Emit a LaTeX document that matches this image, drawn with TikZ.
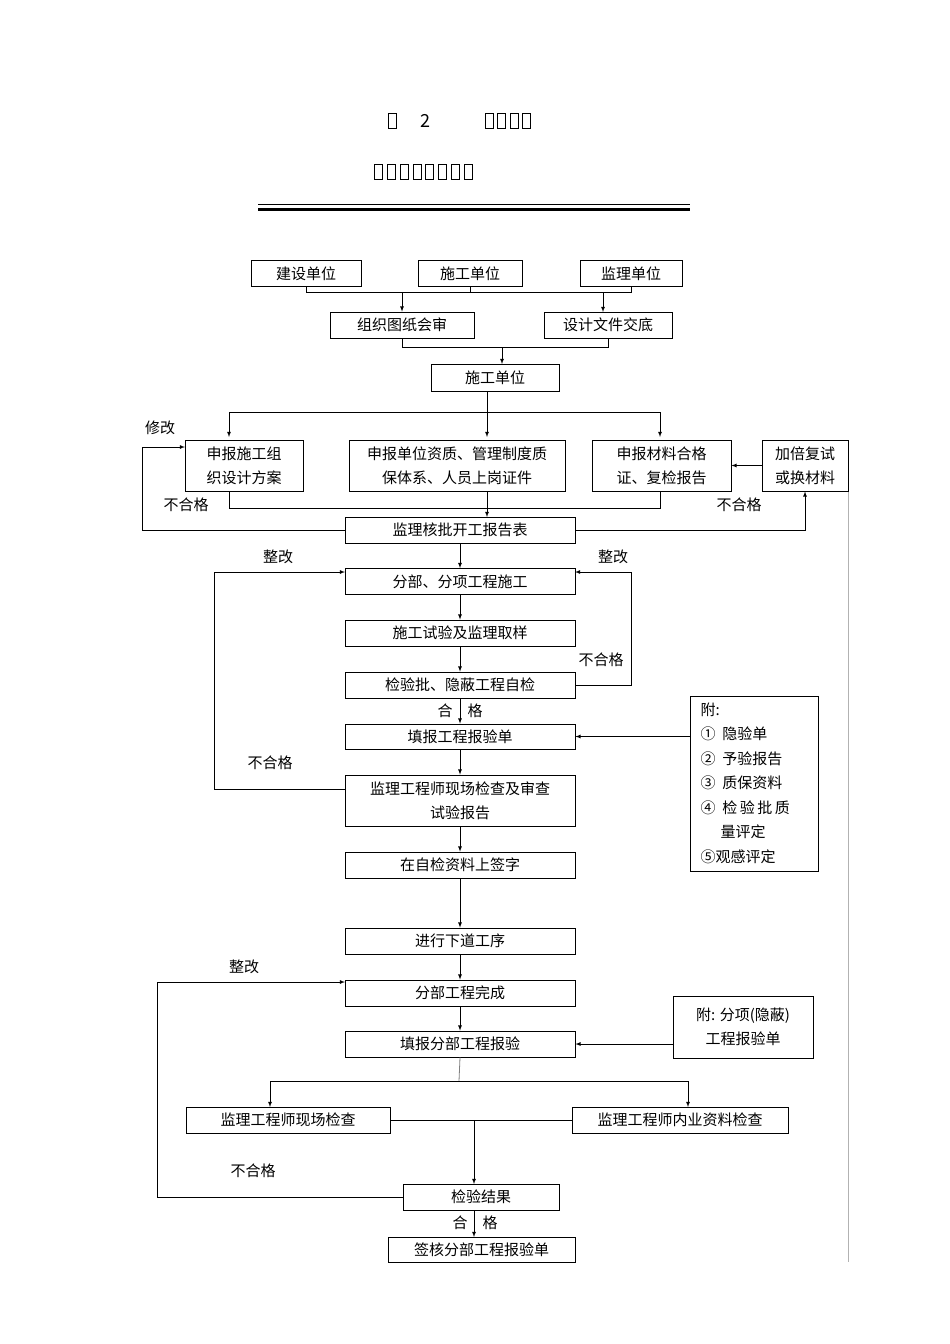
\documentclass[tikz,border=0pt]{standalone}
\usepackage{fontspec}
\setmainfont{Noto Sans CJK SC}
\usetikzlibrary{calc}

\begin{document}
\begin{tikzpicture}[x=1pt,y=-1pt,
    box/.style={draw,thick,inner sep=0pt,minimum height=26pt,font=\fontsize{15}{24}\selectfont,align=center},
    link/.style={thick,-latex},
    line/.style={thick},
    lbl/.style={font=\fontsize{15}{18}\selectfont},
    tofu/.style={draw,thin,minimum width=8pt,minimum height=15pt,inner sep=0pt}]
  \useasboundingbox (0,0) rectangle (950,1344);

  % title (glyphs missing in the original)
  \node[tofu] at (392,121) {};
  \node[font=\fontsize{18}{18}\selectfont] at (425,121) {2};
  \foreach \i in {0,...,3} \node[tofu] at (489+\i*12.5,121) {};
  \foreach \i in {0,...,7} \node[tofu] at (378+\i*12.9,172) {};
  \draw[thin] (258,204) -- (690,204);
  \draw[line width=3pt] (258,209.5) -- (690,209.5);
  \draw[gray!60,thin] (848,490) -- (848,1262);

  % top
  \node[box,minimum width=110pt] (owner) at (306,273.5) {建设单位};
  \node[box,minimum width=104pt] (builder) at (470,273.5) {施工单位};
  \node[box,minimum width=102pt] (super) at (631,273.5) {监理单位};
  \node[box,minimum width=144pt] (review) at (402,325) {组织图纸会审};
  \node[box,minimum width=128pt] (brief) at (608,325) {设计文件交底};
  \node[box,minimum width=128pt,minimum height=27pt] (builder2) at (495,377.5) {施工单位};

  \draw[line] (owner.south) -- (306,292) -- (631,292) -- (super.south);
  \draw[line] (builder.south) -- (470,292);
  \draw[link] (402,292) -- (review.north);
  \draw[link] (603,292) -- (603,312);
  \draw[line] (review.south) -- (402,347) -- (608,347) -- (brief.south);
  \draw[link] (502,347) -- (502,364);

  % submissions
  \node[box,minimum width=118pt,minimum height=51pt] (plan) at (244,465.5) {申报施工组\\织设计方案};
  \node[box,minimum width=216pt,minimum height=51pt] (qual) at (457,465.5) {申报单位资质、管理制度质\\保体系、人员上岗证件};
  \node[box,minimum width=139pt,minimum height=51pt] (mat) at (661.5,465.5) {申报材料合格\\证、复检报告};
  \node[box,minimum width=86pt,minimum height=51pt] (retest) at (805,465.5) {加倍复试\\或换材料};

  \draw[line] (487,391) -- (487,412);
  \draw[line] (229,412) -- (660,412);
  \draw[link] (229,412) -- (229,437);
  \draw[link] (487,412) -- (487,437);
  \draw[link] (660,412) -- (660,437);
  \draw[link] (retest.west) -- (mat.east);

  % column
  \node[box,minimum width=230pt] (approve) at (460,530) {监理核批开工报告表};
  \node[box,minimum width=230pt] (work) at (460,581.5) {分部、分项工程施工};
  \node[box,minimum width=230pt] (test) at (460,633) {施工试验及监理取样};
  \node[box,minimum width=230pt] (selfchk) at (460,685) {检验批、隐蔽工程自检};
  \node[box,minimum width=230pt,minimum height=25pt] (form) at (460,736.5) {填报工程报验单};
  \node[box,minimum width=230pt,minimum height=51pt] (inspect) at (460,800.5) {监理工程师现场检查及审查\\试验报告};
  \node[box,minimum width=230pt] (sign) at (460,865) {在自检资料上签字};
  \node[box,minimum width=230pt] (next) at (460,941) {进行下道工序};
  \node[box,minimum width=230pt] (done) at (460,993) {分部工程完成};
  \node[box,minimum width=230pt] (form2) at (460,1044) {填报分部工程报验};
  \node[box,minimum width=204pt] (site) at (288,1120) {监理工程师现场检查};
  \node[box,minimum width=216pt] (docs) at (680,1120) {监理工程师内业资料检查};
  \node[box,minimum width=156pt] (result) at (481,1197) {检验结果};
  \node[box,minimum width=187pt,minimum height=25pt] (final) at (481.5,1249.5) {签核分部工程报验单};

  \node[box,minimum width=128pt,minimum height=175pt,anchor=north west] (att) at (690,696) {};
  \node[lbl,align=left,anchor=north west,font=\fontsize{15}{24.5}\selectfont] at (697,699) {附:\\①\ \ 隐验单\\②\ \ 予验报告\\③\ \ 质保资料\\④\ \ 检\,验\,批\,质\\\ \ \ \ \ \ 量评定\\⑤观感评定};
  \node[box,minimum width=140pt,minimum height=62pt] (att2) at (743,1027) {附: 分项(隐蔽)\\工程报验单};

  % connectors
  \draw[line] (229,491) -- (229,508) -- (660,508) -- (660,491);
  \draw[link] (487,491) -- (487,517);
  \draw[link] (approve.west) -- (142,530) -- (142,447) -- (185,447);
  \draw[link] (approve.east) -- (805,530) -- (retest.south);
  \draw[link] (approve) -- (work);
  \draw[link] (work) -- (test);
  \draw[link] (test) -- (selfchk);
  \draw[link] (selfchk) -- (form);
  \draw[link] (form) -- (inspect);
  \draw[link] (inspect) -- (sign);
  \draw[link] (sign) -- (next);
  \draw[link] (next) -- (done);
  \draw[link] (done) -- (form2);
  \draw[link] (selfchk.east) -- (631,685) -- (631,572) -- (575,572);
  \draw[link] (345,789) -- (214,789) -- (214,572) -- (345,572);
  \draw[link] (att.west |- form.east) -- (form.east);
  \draw[link] (att2.west |- form2.east) -- (form2.east);
  \draw[line,gray] (form2.south) -- (459,1081);
  \draw[line] (270,1081) -- (688,1081);
  \draw[link] (270,1081) -- (270,1107);
  \draw[link] (688,1081) -- (688,1107);
  \draw[line,thin] (site.east) -- (docs.west);
  \draw[link] (474,1120) -- (474,1184);
  \draw[link] (result.west) -- (157,1197) -- (157,982) -- (345,982);
  \draw[link] (474,1210) -- (474,1237);

  % labels
  \node[lbl] at (160,428) {修改};
  \node[lbl] at (186,505) {不合格};
  \node[lbl] at (739,505) {不合格};
  \node[lbl] at (278,557) {整改};
  \node[lbl] at (613,557) {整改};
  \node[lbl] at (601,660) {不合格};
  \node[lbl] at (270,763) {不合格};
  \node[lbl] at (460,711) {合\quad 格};
  \node[lbl] at (244,967) {整改};
  \node[lbl] at (253,1171) {不合格};
  \node[lbl] at (475,1223) {合\quad 格};
\end{tikzpicture}
\end{document}
